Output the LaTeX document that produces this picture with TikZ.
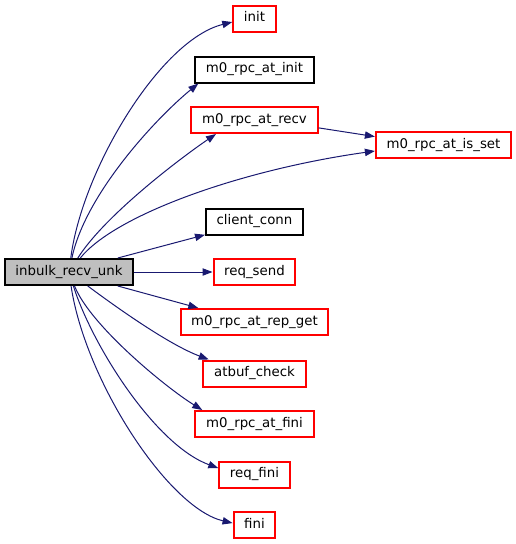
\documentclass[tikz,border=0pt]{standalone}
\usepackage{xcolor}
\usepackage{fontspec}
\setmainfont{DejaVu Sans}
\usepackage{tikz}
\usetikzlibrary{arrows.meta}

\definecolor{edgeblue}{HTML}{191970}
\definecolor{rootgray}{HTML}{BFBFBF}
\definecolor{truncred}{HTML}{FF0000}

\begin{document}
\begin{tikzpicture}[
    x=0.75pt, y=-0.75pt,
    font=\fontsize{10pt}{12pt}\selectfont,
    box/.style={
        draw=black,
        line width=1.5pt,
        minimum height=19.5pt,
        inner xsep=8pt,
        inner ysep=0pt,
        text height=7.6pt,
        text depth=2.4pt
    },
    redbox/.style={box, draw=truncred},
    rootbox/.style={box, fill=rootgray},
    arrow/.style={-{Triangle[length=7.5pt, width=5.5pt]}, edgeblue, line width=0.75pt}
]
\useasboundingbox (0,0) rectangle (516,544);

\node[rootbox] (unk) at (69,272) {inbulk\_recv\_unk};

\node[redbox] (init) at (254.5,18.5) {init};
\node[box] (atinit) at (254.5,69.5) {m0\_rpc\_at\_init};
\node[redbox] (atrecv) at (254.5,120) {m0\_rpc\_at\_recv};
\node[redbox] (isset) at (443.5,145) {m0\_rpc\_at\_is\_set};
\node[box] (conn) at (254.5,221.5) {client\_conn};
\node[redbox] (reqsend) at (254.5,272) {req\_send};
\node[redbox] (repget) at (254.5,322) {m0\_rpc\_at\_rep\_get};
\node[redbox] (atbuf) at (254.5,373.5) {atbuf\_check};
\node[redbox] (atfini) at (254.5,424) {m0\_rpc\_at\_fini};
\node[redbox] (reqfini) at (254.5,474.5) {req\_fini};
\node[redbox] (fini) at (254.5,525) {fini};

\draw[arrow] (unk) .. controls (82,170) and (160,40) .. (init.-171);
\draw[arrow] (unk) .. controls (85,195) and (155,119) .. (atinit.-166);
\draw[arrow] (unk) .. controls (105,215) and (182,157) .. (atrecv.-160);
\draw[arrow] (unk) .. controls (115,215) and (240,170) .. (isset.-175);
\draw[arrow] (atrecv.-7) -- (isset.173);
\draw[arrow] (unk.16) -- (conn.-165);
\draw[arrow] (unk) -- (reqsend);
\draw[arrow] (unk.-16) -- (repget.166);
\draw[arrow] (unk) .. controls (120,310) and (170,345) .. (atbuf.163);
\draw[arrow] (unk) .. controls (90,325) and (165,387) .. (atfini.165);
\draw[arrow] (unk) .. controls (92,345) and (155,445) .. (reqfini.170);
\draw[arrow] (unk) .. controls (85,380) and (168,508) .. (fini.175);
\end{tikzpicture}
\end{document}
